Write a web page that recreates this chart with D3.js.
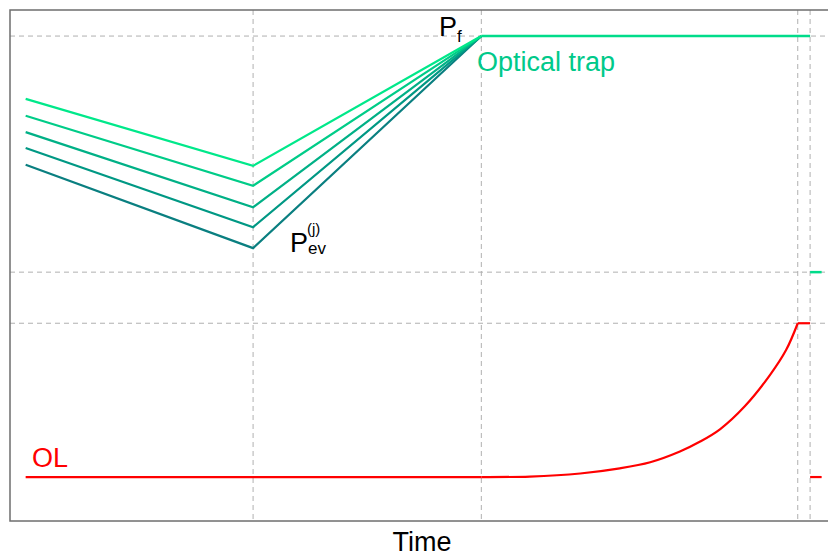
<!DOCTYPE html>
<html>
<head>
<meta charset="utf-8">
<script src="https://cdn.jsdelivr.net/npm/d3@7"></script>
<style>
  body { margin: 0; background: #fff; }
  text { font-family: "Liberation Sans", Arial, sans-serif; }
</style>
</head>
<body>
<div id="chart"></div>
<script>
// time marks (arbitrary units) and power levels
const tStart = 0.19;
const tEvap = 2.95;
const tRamp = 5.72;
const tOlEnd = 9.56;
const tEnd = 9.71;
const tTail = 9.85;

const pFinal = 9.49;
const pTrapTail = 4.87;
const pOlTop = 3.87;
const pOlBase = 0.86;

// five evaporation trajectories P_ev^(j): start level, level at tEvap
const evStart = [8.26, 7.93, 7.61, 7.30, 6.97];
const evLow = [6.95, 6.56, 6.14, 5.75, 5.34];
const evColors = ['#00e88a', '#00cc88', '#00b086', '#009884', '#0a7f80'];

// OL ramp
const olTimes = [5.72, 6.31, 6.92, 7.40, 7.77, 8.13, 8.37, 8.62, 8.92, 9.22, 9.42, 9.56];
const olPower = [0.86, 0.87, 0.93, 1.03, 1.15, 1.36, 1.55, 1.80, 2.25, 2.85, 3.35, 3.87];

const vGrid = [tEvap, tRamp, tOlEnd, tEnd];
const hGrid = [pFinal, pTrapTail, pOlTop];

const width = 828, height = 556;
const svg = d3.select('#chart').append('svg')
  .attr('width', width)
  .attr('height', height);

const x = d3.scaleLinear().domain([0, 10]).range([10, 834]);
const y = d3.scaleLinear().domain([0, 10]).range([521, 10]);

const line = d3.line().x(d => x(d[0])).y(d => y(d[1]));

// grid
svg.selectAll('.vgrid')
  .data(vGrid)
  .enter()
  .append('line')
  .attr('x1', d => x(d)).attr('x2', d => x(d))
  .attr('y1', y(10)).attr('y2', y(0))
  .attr('stroke', '#b0b0b0')
  .attr('stroke-width', 1)
  .attr('stroke-dasharray', '5,4');

svg.selectAll('.hgrid')
  .data(hGrid)
  .enter()
  .append('line')
  .attr('x1', x(0)).attr('x2', x(10))
  .attr('y1', d => y(d)).attr('y2', d => y(d))
  .attr('stroke', '#b0b0b0')
  .attr('stroke-width', 1)
  .attr('stroke-dasharray', '5,4');

// frame
svg.append('rect')
  .attr('x', x(0)).attr('y', y(10))
  .attr('width', x(10) - x(0))
  .attr('height', y(0) - y(10))
  .attr('fill', 'none')
  .attr('stroke', '#6e6e6e')
  .attr('stroke-width', 1.5);

// evaporation ramps
const evData = evStart.map((s, i) => ({
  color: evColors[i],
  pts: [[tStart, s], [tEvap, evLow[i]], [tRamp, pFinal]]
}));

svg.selectAll('.ev')
  .data(evData.slice().reverse())
  .enter()
  .append('path')
  .attr('d', d => line(d.pts))
  .attr('fill', 'none')
  .attr('stroke', d => d.color)
  .attr('stroke-width', 2.2);

// optical trap hold
svg.append('path')
  .attr('d', line([[tRamp, pFinal], [tEnd, pFinal]]))
  .attr('fill', 'none')
  .attr('stroke', '#00dc8a')
  .attr('stroke-width', 2.5);

svg.append('path')
  .attr('d', line([[tEnd, pTrapTail], [tTail, pTrapTail]]))
  .attr('fill', 'none')
  .attr('stroke', '#00dc8a')
  .attr('stroke-width', 2.5);

// OL
const olCurve = d3.line().x(d => x(d[0])).y(d => y(d[1])).curve(d3.curveCatmullRom.alpha(0.5));
svg.append('path')
  .attr('d', line([[tStart, pOlBase], [tRamp, pOlBase]]))
  .attr('fill', 'none')
  .attr('stroke', '#ff0000')
  .attr('stroke-width', 2.2);

svg.append('path')
  .attr('d', olCurve(olTimes.map((t, i) => [t, olPower[i]])))
  .attr('fill', 'none')
  .attr('stroke', '#ff0000')
  .attr('stroke-width', 2.2);

svg.append('path')
  .attr('d', line([[tOlEnd, pOlTop], [tEnd, pOlTop]]))
  .attr('fill', 'none')
  .attr('stroke', '#ff0000')
  .attr('stroke-width', 2.2);

svg.append('path')
  .attr('d', line([[tEnd, pOlBase], [tTail, pOlBase]]))
  .attr('fill', 'none')
  .attr('stroke', '#ff0000')
  .attr('stroke-width', 2.2);

// labels
const pf = svg.append('text').attr('x', 439).attr('y', 36).style('font-size', '27px');
pf.append('tspan').text('P');
pf.append('tspan').attr('dy', 6).style('font-size', '17px').text('f');

svg.append('text')
  .attr('x', 477).attr('y', 71)
  .style('font-size', '27px')
  .style('fill', '#00c98a')
  .text('Optical trap');

const pev = svg.append('text').attr('x', 290).attr('y', 252).style('font-size', '27px');
pev.append('tspan').text('P');
pev.append('tspan').attr('dy', 2).style('font-size', '17px').text('ev');
pev.append('tspan').attr('x', 307).attr('y', 234).style('font-size', '15px').text('(j)');

svg.append('text')
  .attr('x', 32).attr('y', 467)
  .style('font-size', '27px')
  .style('fill', '#ff0000')
  .text('OL');

svg.append('text')
  .attr('x', (x(0) + x(10)) / 2).attr('y', 551)
  .attr('text-anchor', 'middle')
  .style('font-size', '27px')
  .text('Time');
</script>
</body>
</html>
